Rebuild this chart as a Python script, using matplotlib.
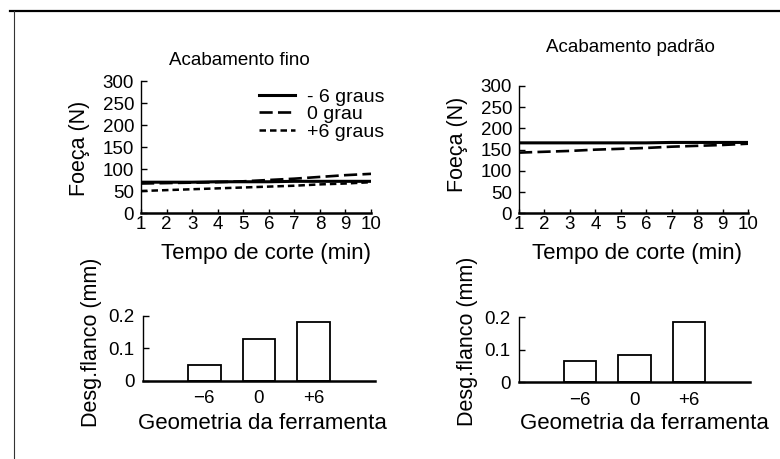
import matplotlib
matplotlib.use("Agg")
import matplotlib.pyplot as plt
from matplotlib.lines import Line2D

plt.rcParams['font.family'] = ['Liberation Sans', 'DejaVu Sans']

# cutting time (min)
tempo = [1, 2, 3, 4, 5, 6, 7, 8, 9, 10]

# force (N), fine finish
fino_m6 = [70, 70, 70, 71, 71, 71, 72, 72, 72, 72]
fino_0 = [67, 68, 69, 70, 72, 75, 78, 82, 86, 89]
fino_p6 = [50, 52, 54, 56, 58, 60, 62, 65, 67, 70]

# force (N), standard finish
padrao_m6 = [166, 166, 166, 166, 166, 166, 167, 167, 167, 167]
padrao_0 = [143, 145, 147, 150, 152, 154, 157, 159, 161, 164]

# flank wear (mm)
geometria = ["\u22126", "0", "+6"]
desg_fino = [0.05, 0.13, 0.18]
desg_padrao = [0.065, 0.084, 0.185]

legenda = ["- 6 graus", "0 grau", "+6 graus"]

W, H = 780, 459


def px(x, y):
    return x / W, 1 - y / H


def rect(x0, x1, y_bot, y_top):
    return [x0 / W, (H - y_bot) / H, (x1 - x0) / W, (y_bot - y_top) / H]


fig = plt.figure(figsize=(7.8, 4.59), dpi=100)

# frame lines of the scanned page
fig.add_artist(Line2D([10 / W, 1], [1 - 11 / H, 1 - 11 / H], color="black", lw=1.6))
fig.add_artist(Line2D([14 / W, 14 / W], [1 - 11 / H, 0], color="#333333", lw=0.8))


def style(ax):
    for s in ["top", "right"]:
        ax.spines[s].set_visible(False)
    ax.spines["left"].set_linewidth(1.0)
    ax.spines["bottom"].set_linewidth(1.8)
    ax.tick_params(direction="in", labelsize=13.5, width=1.0)


ax1 = fig.add_axes(rect(141, 371, 213, 81))
ax1.plot(tempo, fino_m6, color="black", lw=2.2, label=legenda[0])
ax1.plot(tempo, fino_0, color="black", lw=1.9, dashes=(5, 2), label=legenda[1])
ax1.plot(tempo, fino_p6, color="black", lw=1.8, dashes=(2.6, 1.6), label=legenda[2])
ax1.set_xlim(1, 10)
ax1.set_ylim(0, 300)
ax1.set_xticks(tempo)
ax1.set_yticks(range(0, 301, 50))
style(ax1)
ax1.tick_params(axis="y", length=4, pad=5)
ax1.tick_params(axis="x", length=3, pad=2)
ax1.legend(loc="upper right", bbox_to_anchor=(1.1, 1.02), frameon=False,
           fontsize=14, handlelength=1.85, handletextpad=0.6,
           labelspacing=0.0, borderpad=0)

ax2 = fig.add_axes(rect(519, 748, 213.3, 86))
ax2.plot(tempo, padrao_m6, color="black", lw=2.2)
ax2.plot(tempo, padrao_0, color="black", lw=1.9, dashes=(5, 2))
ax2.set_xlim(1, 10)
ax2.set_ylim(0, 300)
ax2.set_xticks(tempo)
ax2.set_yticks(range(0, 301, 50))
style(ax2)
ax2.tick_params(axis="y", length=4, pad=5)
ax2.tick_params(axis="x", length=3, pad=2)

pos = range(len(geometria))

ax3 = fig.add_axes(rect(143, 375, 380.7, 316))
ax3.bar(pos, desg_fino, width=0.6, facecolor="white", edgecolor="black", lw=1.3)
ax3.set_xlim(-1.11, 3.11)
ax3.set_ylim(0, 0.2)
ax3.set_xticks(list(pos))
ax3.set_xticklabels(geometria)
ax3.set_yticks([0, 0.1, 0.2])
ax3.set_yticklabels(["0", "0.1", "0.2"])
style(ax3)
ax3.tick_params(axis="y", length=4, pad=6)
ax3.tick_params(axis="x", length=0, pad=7)

ax4 = fig.add_axes(rect(519, 750, 382.3, 317.3))
ax4.bar(pos, desg_padrao, width=0.6, facecolor="white", edgecolor="black", lw=1.3)
ax4.set_xlim(-1.12, 3.12)
ax4.set_ylim(0, 0.2)
ax4.set_xticks(list(pos))
ax4.set_xticklabels(geometria)
ax4.set_yticks([0, 0.1, 0.2])
ax4.set_yticklabels(["0", "0.1", "0.2"])
style(ax4)
ax4.tick_params(axis="y", length=4, pad=6)
ax4.tick_params(axis="x", length=0, pad=7)

# titles and axis labels
fig.text(*px(239, 65), "Acabamento fino", ha="center", va="baseline", fontsize=13.5)
fig.text(*px(630, 52), "Acabamento padr\u00e3o", ha="center", va="baseline", fontsize=13.5)

fig.text(*px(79, 148), "Foe\u00e7a (N)", rotation=90, ha="center", va="center", fontsize=15.5)
fig.text(*px(458, 144), "Foe\u00e7a (N)", rotation=90, ha="center", va="center", fontsize=15.5)

fig.text(*px(266, 259), "Tempo de corte (min)", ha="center", va="baseline", fontsize=16)
fig.text(*px(637, 259), "Tempo de corte (min)", ha="center", va="baseline", fontsize=16)

fig.text(*px(92, 342), "Desg.flanco (mm)", rotation=90, ha="center", va="center", fontsize=15.5)
fig.text(*px(467, 341), "Desg.flanco (mm)", rotation=90, ha="center", va="center", fontsize=15.5)

fig.text(*px(262, 429), "Geometria da ferramenta", ha="center", va="baseline", fontsize=16)
fig.text(*px(644, 429), "Geometria da ferramenta", ha="center", va="baseline", fontsize=16)

fig.savefig("out.png", dpi=100)
